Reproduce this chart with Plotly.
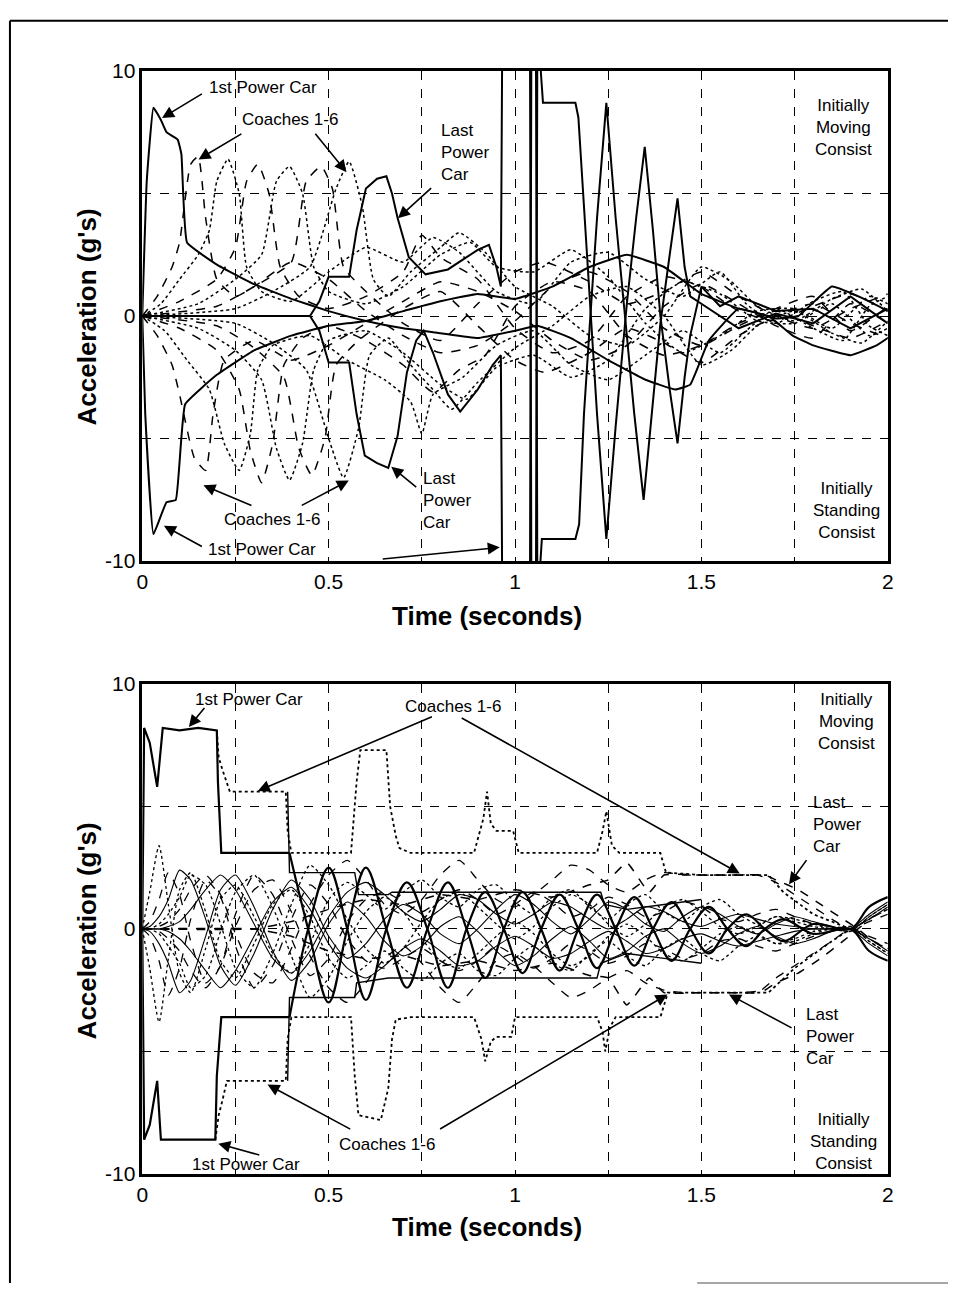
import plotly.graph_objects as go

# ---------------- TOP PANEL DATA (time in s, acceleration in g) ----------------
t_top_pc1_mov = [0, 0.012, 0.03, 0.05, 0.065, 0.095, 0.105, 0.12, 0.2, 0.3, 0.4, 0.5, 0.6, 0.7, 0.8, 0.9, 1.0, 1.06, 1.15, 1.25, 1.35, 1.43, 1.47, 1.52, 1.6, 1.7, 1.76, 1.85, 1.95, 2.0]
a_top_pc1_mov = [0, 5.5, 8.5, 8.0, 7.5, 7.2, 6.6, 3.0, 2.1, 1.3, 0.7, 0.2, -0.2, -0.5, -0.7, -0.9, -0.6, -0.4, -0.9, -1.8, -2.6, -3.0, -2.8, -1.0, 0.3, -0.1, 0.0, 1.2, 0.6, 0.2]

t_top_pc1_std = [0, 0.008, 0.03, 0.065, 0.09, 0.115, 0.2, 0.3, 0.4, 0.5, 0.6, 0.7, 0.8, 0.9, 1.0, 1.1, 1.2, 1.3, 1.4, 1.5, 1.6, 1.68, 1.745, 1.8, 1.9, 1.97, 2.0]
a_top_pc1_std = [0, -4.0, -8.9, -7.6, -7.5, -3.6, -2.4, -1.4, -0.8, -0.4, -0.2, 0.2, 0.6, 0.9, 0.7, 1.2, 2.0, 2.5, 2.0, 0.9, 0.3, 0.0, -0.8, -1.2, -1.6, -1.2, -0.9]

t_top_lpc_mov = [0, 0.45, 0.475, 0.50, 0.555, 0.575, 0.60, 0.63, 0.655, 0.67, 0.685, 0.715, 0.76, 0.82, 0.86, 0.90, 0.93, 0.95, 0.962, 0.966, 1.04, 1.044, 1.056, 1.06, 1.075, 1.162, 1.17, 1.185, 1.2, 1.22, 1.245, 1.27, 1.3, 1.325, 1.348, 1.37, 1.39, 1.415, 1.436, 1.455, 1.47, 1.5, 1.55, 1.6, 1.7, 1.8, 1.9, 2.0]
a_top_lpc_mov = [0, 0, 0.6, 1.6, 1.6, 3.5, 5.2, 5.6, 5.7, 5.0, 4.0, 2.4, 1.7, 1.9, 2.3, 2.7, 2.9, 2.0, 1.2, 12, 12, -12, -12, 12, 8.7, 8.7, 8.1, 4.5, 1.0, -4.0, -9.1, -4.5, 0.5, 4.0, 6.9, 3.5, 0.0, -3.0, -5.2, -2.5, -0.8, 1.2, 0.4, 0.8, 0.2, 0.3, -0.5, 0.3]

t_top_lpc_std = [0, 0.45, 0.475, 0.50, 0.555, 0.575, 0.597, 0.63, 0.66, 0.685, 0.71, 0.735, 0.755, 0.78, 0.82, 0.853, 0.9, 0.94, 0.962, 0.966, 1.04, 1.044, 1.056, 1.06, 1.072, 1.162, 1.172, 1.185, 1.2, 1.22, 1.245, 1.27, 1.295, 1.32, 1.345, 1.37, 1.39, 1.415, 1.436, 1.455, 1.47, 1.5, 1.6, 1.7, 1.8, 1.9, 2.0]
a_top_lpc_std = [0, 0, -0.6, -1.9, -1.9, -4.0, -5.7, -6.0, -6.2, -4.9, -2.3, -1.0, -0.6, -1.5, -3.2, -3.9, -3.0, -2.0, -1.6, -12, -12, 12, 12, -12, -9.1, -9.1, -8.5, -4.0, -0.5, 4.0, 8.7, 4.0, 0.0, -4.0, -7.5, -3.5, -0.3, 2.5, 4.8, 2.0, 0.8, 0.5, -0.5, 0.1, -0.3, 0.8, -0.3]

# coaches, initially moving consist (top)
t_top_c1m = [0, 0.04, 0.08, 0.1, 0.13, 0.15, 0.17, 0.2, 0.25, 0.3, 0.4, 0.5, 0.6, 0.7, 0.8, 0.9, 1.0, 1.1, 1.2, 1.3, 1.4, 1.5, 1.6, 1.7, 1.8, 1.9, 2.0]
a_top_c1m = [0, 0.8, 2.0, 3.0, 6.2, 6.5, 4.0, 1.5, 0.8, 1.2, 2.2, 1.5, 0.2, -0.8, -1.5, -1.2, -0.2, 1.2, 1.8, 1.0, -0.5, -1.2, -0.4, 0.3, 0.8, -0.6, 0.4]
t_top_c2m = [0, 0.05, 0.1, 0.15, 0.18, 0.2, 0.23, 0.26, 0.28, 0.32, 0.4, 0.5, 0.6, 0.7, 0.78, 0.85, 0.95, 1.05, 1.15, 1.25, 1.35, 1.45, 1.55, 1.62, 1.7, 1.8, 1.88, 1.95, 2.0]
a_top_c2m = [0, 0.5, 1.5, 2.5, 3.5, 5.5, 6.4, 5.0, 2.0, 1.0, 0.6, 1.8, 2.8, 2.2, 3.2, 2.6, 1.0, 0.5, 2.2, 2.6, 1.5, 0.8, 1.8, 0.5, -0.3, 0.6, 1.0, -0.4, -0.8]
t_top_c3m = [0, 0.1, 0.2, 0.25, 0.28, 0.31, 0.34, 0.37, 0.42, 0.5, 0.6, 0.7, 0.75, 0.8, 0.9, 1.0, 1.1, 1.2, 1.3, 1.4, 1.5, 1.6, 1.7, 1.8, 1.9, 2.0]
a_top_c3m = [0, 0.6, 1.5, 2.8, 5.5, 6.2, 5.0, 2.0, 0.8, 0.3, 0.8, 1.8, 3.3, 2.4, 1.5, -0.5, -1.5, -1.0, 0.8, 1.6, 1.2, 0.2, -0.2, 0.4, 0.9, 0.2]
t_top_c4m = [0, 0.15, 0.25, 0.32, 0.36, 0.395, 0.43, 0.46, 0.5, 0.6, 0.7, 0.8, 0.88, 0.95, 1.05, 1.15, 1.25, 1.35, 1.45, 1.55, 1.65, 1.75, 1.85, 1.95, 2.0]
a_top_c4m = [0, 0.5, 1.5, 2.5, 5.5, 6.1, 5.0, 2.0, 1.0, 0.5, 1.2, 2.5, 3.0, 2.0, 1.8, 2.7, 1.6, -0.3, -1.5, -0.8, 0.2, 0.3, -0.5, 0.8, 0.5]
t_top_c5m = [0, 0.2, 0.3, 0.4, 0.44, 0.48, 0.51, 0.54, 0.6, 0.7, 0.8, 0.9, 1.0, 1.08, 1.2, 1.3, 1.4, 1.5, 1.6, 1.7, 1.8, 1.9, 2.0]
a_top_c5m = [0, 0.4, 1.2, 2.2, 5.5, 6.1, 5.2, 2.0, 1.0, -0.3, -1.0, 0.5, 1.8, 2.2, 1.4, 0.5, 1.0, 1.8, 0.8, 0.0, -0.5, 0.3, 0.9]
t_top_c6m = [0, 0.25, 0.35, 0.45, 0.52, 0.555, 0.59, 0.62, 0.66, 0.72, 0.8, 0.85, 0.92, 1.0, 1.1, 1.2, 1.3, 1.4, 1.5, 1.58, 1.65, 1.75, 1.85, 1.93, 2.0]
a_top_c6m = [0, 0.3, 1.0, 2.0, 5.2, 6.3, 4.5, 1.5, 0.8, 1.8, 2.8, 3.4, 2.6, 1.2, 0.4, -0.8, -1.2, 0.0, 2.0, 1.4, 0.4, -0.2, 0.7, 1.1, 0.2]

# coaches, initially standing consist (top)
t_top_c1s = [0, 0.04, 0.08, 0.1, 0.14, 0.17, 0.19, 0.22, 0.3, 0.4, 0.5, 0.6, 0.7, 0.8, 0.9, 1.0, 1.1, 1.2, 1.3, 1.4, 1.5, 1.6, 1.7, 1.8, 1.9, 2.0]
a_top_c1s = [0, -0.8, -2.0, -3.2, -5.8, -6.3, -4.0, -1.8, -1.0, -1.8, -1.2, -0.3, 0.6, 1.4, 1.0, 0.2, -1.0, -1.8, -1.2, 0.4, 1.3, 0.5, -0.4, -0.9, 0.5, -0.3]
t_top_c2s = [0, 0.06, 0.12, 0.18, 0.22, 0.26, 0.29, 0.31, 0.35, 0.45, 0.55, 0.65, 0.72, 0.75, 0.78, 0.86, 0.95, 1.05, 1.15, 1.25, 1.35, 1.45, 1.55, 1.62, 1.7, 1.8, 1.88, 1.95, 2.0]
a_top_c2s = [0, -0.6, -1.8, -3.0, -5.2, -6.3, -4.8, -2.2, -1.2, -0.8, -1.8, -2.6, -3.5, -4.8, -3.2, -2.5, -1.2, -0.6, -2.0, -2.6, -1.6, -0.6, -1.5, -0.6, 0.3, -0.5, -1.0, 0.4, 0.8]
t_top_c3s = [0, 0.1, 0.2, 0.26, 0.29, 0.32, 0.35, 0.38, 0.43, 0.5, 0.6, 0.7, 0.78, 0.85, 0.92, 1.0, 1.1, 1.2, 1.3, 1.4, 1.5, 1.6, 1.7, 1.8, 1.9, 2.0]
a_top_c3s = [0, -0.5, -1.4, -3.0, -5.5, -6.8, -5.2, -2.0, -0.9, -0.4, -1.0, -2.0, -3.1, -2.2, -1.6, 0.4, 1.4, 1.0, -0.8, -1.6, -1.2, -0.3, 0.2, -0.4, -0.9, -0.2]
t_top_c4s = [0, 0.15, 0.25, 0.32, 0.36, 0.395, 0.43, 0.46, 0.5, 0.6, 0.7, 0.8, 0.87, 0.95, 1.05, 1.15, 1.25, 1.35, 1.45, 1.55, 1.65, 1.75, 1.85, 1.95, 2.0]
a_top_c4s = [0, -0.5, -1.4, -2.6, -5.4, -6.7, -5.2, -2.2, -1.0, -0.6, -1.5, -2.8, -3.4, -2.1, -1.6, -2.5, -1.8, 0.3, 1.4, 0.9, -0.2, -0.3, 0.5, -0.8, -0.5]
t_top_c5s = [0, 0.2, 0.3, 0.38, 0.42, 0.455, 0.49, 0.52, 0.58, 0.7, 0.8, 0.9, 1.0, 1.08, 1.2, 1.3, 1.4, 1.5, 1.6, 1.7, 1.8, 1.9, 2.0]
a_top_c5s = [0, -0.4, -1.3, -2.5, -5.4, -6.5, -5.0, -2.0, -1.0, 0.3, 1.0, -0.4, -1.8, -2.3, -1.5, -0.5, -1.1, -1.9, -0.8, 0.0, 0.5, -0.3, -0.9]
t_top_c6s = [0, 0.25, 0.35, 0.44, 0.5, 0.54, 0.58, 0.61, 0.66, 0.72, 0.78, 0.83, 0.9, 1.0, 1.1, 1.2, 1.3, 1.4, 1.5, 1.58, 1.65, 1.75, 1.85, 1.93, 2.0]
a_top_c6s = [0, -0.3, -1.1, -2.2, -5.0, -6.6, -4.6, -1.6, -0.9, -2.0, -3.0, -3.8, -2.7, -1.3, -0.4, 0.8, 1.2, 0.0, -2.0, -1.4, -0.4, 0.2, -0.7, -1.1, -0.2]

# ---------------- BOTTOM PANEL DATA ----------------
t_bot_pc1_mov_step = [0, 0.005, 0.02, 0.04, 0.055, 0.1, 0.15, 0.2, 0.203, 0.212, 0.3, 0.395]
a_bot_pc1_mov_step = [0, 8.2, 7.6, 5.8, 8.2, 8.1, 8.2, 8.1, 6.0, 3.1, 3.1, 3.1]
t_bot_pc1_std_step = [0, 0.005, 0.02, 0.04, 0.05, 0.1, 0.15, 0.196, 0.2, 0.212, 0.3, 0.395]
a_bot_pc1_std_step = [0, -8.6, -8.0, -6.2, -8.6, -8.6, -8.6, -8.6, -6.0, -3.6, -3.6, -3.6]

t_bot_osc = [0.395, 0.445, 0.50, 0.55, 0.60, 0.655, 0.71, 0.765, 0.82, 0.87, 0.92, 0.97, 1.02, 1.07, 1.12, 1.17, 1.22, 1.27, 1.32, 1.37, 1.42, 1.47, 1.52, 1.57, 1.62, 1.67, 1.72, 1.8, 1.9, 1.95, 2.0]
a_bot_pc1_mov_osc = [3.1, 0.0, -3.0, 0.0, 2.5, 0.0, -2.4, 0.0, 1.9, 0.0, -2.0, 0.0, 1.5, 0.0, -1.7, 0.0, 1.4, 0.0, -1.5, 0.0, 1.1, 0.0, -1.0, 0.0, 0.6, 0.0, -0.5, 0.2, 0.0, 0.9, 1.3]
a_bot_pc1_std_osc = [-3.6, 0.0, 2.5, 0.0, -2.9, 0.0, 1.9, 0.0, -2.4, 0.0, 1.5, 0.0, -1.8, 0.0, 1.4, 0.0, -1.6, 0.0, 1.3, 0.0, -1.3, 0.0, 0.9, 0.0, -0.7, 0.0, 0.4, -0.2, 0.0, -0.9, -1.3]

t_bot_stepA_mov = [0.2, 0.205, 0.215, 0.235, 0.385, 0.39, 0.40, 0.56, 0.575, 0.585, 0.655, 0.665, 0.68, 0.69, 0.72, 0.89, 0.915, 0.925, 0.935, 0.95, 0.995, 1.01, 1.22, 1.235, 1.245, 1.26, 1.28, 1.39, 1.405, 1.5, 1.68, 1.72, 1.8, 1.9]
a_bot_stepA_mov = [8.1, 7.0, 6.5, 5.6, 5.6, 4.0, 3.1, 3.1, 6.0, 7.3, 7.3, 5.0, 3.8, 3.3, 3.1, 3.1, 4.5, 5.6, 4.3, 4.0, 4.0, 3.1, 3.1, 4.0, 4.8, 3.4, 3.1, 3.1, 2.3, 2.2, 2.2, 1.5, 0.6, 0.0]
t_bot_stepA_std = [0.196, 0.205, 0.215, 0.227, 0.385, 0.39, 0.40, 0.56, 0.57, 0.58, 0.64, 0.66, 0.67, 0.68, 0.72, 0.89, 0.91, 0.92, 0.935, 0.95, 0.99, 1.0, 1.22, 1.235, 1.242, 1.255, 1.27, 1.39, 1.41, 1.5, 1.68, 1.75, 1.85, 1.9]
a_bot_stepA_std = [-8.6, -7.6, -7.0, -6.2, -6.2, -4.5, -3.6, -3.6, -6.0, -7.6, -7.8, -6.5, -4.5, -3.7, -3.6, -3.6, -4.5, -5.4, -4.6, -4.4, -4.4, -3.6, -3.6, -4.2, -5.0, -4.0, -3.6, -3.6, -2.6, -2.6, -2.6, -1.6, -0.5, 0.0]

t_bot_stepB_mov = [0.39, 0.395, 0.57, 0.575, 0.58, 0.66, 0.67, 0.985, 1.23, 1.24, 1.3, 1.4, 1.5]
a_bot_stepB_mov = [5.6, 2.3, 2.3, 1.8, 1.4, 1.4, 1.5, 1.5, 1.5, 1.0, 0.8, 1.0, 1.2]
t_bot_stepB_std = [0.39, 0.395, 0.57, 0.575, 0.66, 0.67, 1.02, 1.22, 1.23, 1.3, 1.4, 1.5]
a_bot_stepB_std = [-6.2, -2.8, -2.8, -2.2, -2.0, -2.0, -2.0, -2.0, -1.4, -1.0, -1.2, -1.4]

t_bot_lpc = [0, 0.3, 0.4, 0.5, 0.6, 0.7, 0.8, 0.9, 1.0, 1.1, 1.2, 1.25, 1.3, 1.36, 1.4, 1.5, 1.6, 1.67, 1.7, 1.76, 1.82, 1.88, 1.92, 1.96, 2.0]
a_bot_lpc_mov = [0, 0, 0.3, 0.8, 1.2, 1.0, 1.4, 1.2, 1.6, 1.3, 1.8, 2.0, 2.7, 1.5, 2.2, 2.2, 2.2, 2.2, 2.0, 1.6, 1.0, 0.4, 0.0, -0.5, -0.8]
a_bot_lpc_std = [0, 0, -0.3, -0.9, -1.2, -1.1, -1.5, -1.3, -1.7, -1.4, -1.9, -2.0, -3.1, -2.0, -2.6, -2.6, -2.6, -2.5, -2.2, -1.8, -1.2, -0.5, 0.0, 0.5, 0.8]

t_bot_c = [0, 0.02, 0.045, 0.07, 0.1, 0.13, 0.17, 0.21, 0.25, 0.3, 0.35, 0.4, 0.45, 0.5, 0.55, 0.6, 0.65, 0.7, 0.75, 0.8, 0.85, 0.9, 0.95, 1.0, 1.05, 1.1, 1.15, 1.2, 1.25, 1.3, 1.35, 1.4, 1.45, 1.5, 1.55, 1.6, 1.65, 1.7, 1.75, 1.8, 1.85, 1.9, 1.95, 2.0]
a_bot_c1m = [0, 1.5, 3.4, 1.0, -1.8, -2.6, -0.8, 1.2, 1.8, 0.5, -1.0, -1.8, -0.6, 1.2, 1.9, 1.4, 0.8, 1.5, 2.0, 1.3, 0.9, 1.6, 1.8, 1.1, 0.6, 1.3, 1.6, 0.9, 0.4, 1.0, 1.4, 0.7, 0.3, 0.9, 1.2, 0.6, 0.2, 0.5, 0.3, 0.1, 0.0, -0.1, 0.5, 1.0]
a_bot_c2m = [0, 0.3, 1.2, 2.3, 1.4, -0.5, -2.2, -1.5, 0.6, 2.2, 1.4, -0.4, -1.9, -1.2, 0.3, 1.2, 1.5, 1.1, 0.7, 1.2, 1.6, 1.2, 0.6, 1.0, 1.5, 1.1, 0.5, 0.8, 1.3, 1.0, 0.5, 0.7, 1.1, 0.9, 0.4, 0.3, 0.6, 0.8, 0.5, 0.2, 0.1, 0.0, -0.4, -0.8]
a_bot_c3m = [0, 0.1, 0.5, 1.2, 2.4, 2.0, 0.4, -1.5, -2.3, -1.0, 0.8, 2.0, 1.2, -0.3, -1.2, -0.6, 0.4, 1.0, 0.6, -0.2, -0.6, 0.0, 0.8, 1.4, 1.0, 0.3, -0.2, 0.4, 1.1, 0.8, 0.2, -0.1, 0.5, 0.9, 0.6, 0.1, -0.2, 0.2, 0.5, 0.3, 0.1, 0.0, 0.6, 1.1]
a_bot_c4m = [0, 0.0, 0.2, 0.6, 1.3, 2.2, 1.8, 0.2, -1.6, -2.4, -1.0, 1.0, 2.6, 1.8, 0.4, -0.8, -1.4, -0.8, 0.3, 1.2, 1.5, 0.9, 0.2, -0.4, 0.1, 0.9, 1.4, 1.0, 0.2, -0.3, 0.2, 0.9, 1.2, 0.7, 0.1, -0.2, 0.1, 0.5, 0.4, 0.2, 0.0, 0.1, -0.5, -1.0]
a_bot_c5m = [0, 0, 0.1, 0.3, 0.8, 1.6, 2.2, 1.4, -0.2, -1.8, -2.2, -0.8, 1.0, 2.2, 2.8, 2.0, 1.0, 0.6, 1.2, 2.2, 2.8, 2.0, 1.2, 0.9, 1.4, 2.0, 2.6, 2.4, 1.8, 1.5, 2.0, 2.3, 2.2, 2.2, 2.2, 2.2, 2.2, 1.9, 1.4, 0.9, 0.4, 0.0, 0.3, 0.6]
a_bot_c6m = [0, 0, 0, 0.1, 0.3, 0.8, 1.6, 2.2, 1.6, 0.2, -1.2, -1.8, -0.9, 0.5, 1.5, 1.9, 1.4, 0.7, 0.3, 0.8, 1.4, 1.2, 0.6, 0.2, 0.6, 1.1, 0.9, 0.4, 0.0, 0.4, 0.9, 0.7, 0.3, 0.1, 0.4, 0.6, 0.4, 0.2, 0.1, 0.0, 0.0, 0.0, 0.4, 0.9]
a_bot_c1s = [0, -1.6, -3.8, -1.2, 1.6, 2.3, 0.7, -1.3, -2.0, -0.6, 1.0, 1.6, 0.5, -1.2, -2.0, -1.5, -0.9, -1.6, -2.1, -1.4, -1.0, -1.7, -1.9, -1.2, -0.7, -1.4, -1.7, -1.0, -0.5, -1.1, -1.5, -0.8, -0.4, -1.0, -1.3, -0.7, -0.3, -0.6, -0.4, -0.1, 0.0, 0.1, -0.5, -1.0]
a_bot_c2s = [0, -0.3, -1.3, -2.7, -1.6, 0.4, 2.0, 1.3, -0.7, -2.4, -1.5, 0.4, 1.8, 1.0, -0.4, -1.3, -1.6, -1.2, -0.8, -1.3, -1.7, -1.3, -0.7, -1.1, -1.6, -1.2, -0.6, -0.9, -1.4, -1.1, -0.6, -0.8, -1.2, -1.0, -0.5, -0.4, -0.7, -0.9, -0.6, -0.3, -0.1, 0.0, 0.4, 0.8]
a_bot_c3s = [0, -0.1, -0.6, -1.4, -2.6, -2.1, -0.3, 1.6, 2.2, 0.9, -0.9, -2.1, -1.3, 0.2, 1.1, 0.5, -0.5, -1.1, -0.7, 0.1, 0.5, -0.1, -0.9, -1.5, -1.1, -0.4, 0.1, -0.5, -1.2, -0.9, -0.3, 0.0, -0.6, -1.0, -0.7, -0.2, 0.1, -0.3, -0.6, -0.4, -0.1, 0.0, -0.6, -1.1]
a_bot_c4s = [0, 0, -0.2, -0.7, -1.4, -2.4, -1.9, -0.1, 1.5, 2.2, 0.9, -1.1, -2.8, -2.0, -0.5, 0.7, 1.3, 0.7, -0.4, -1.3, -1.6, -1.0, -0.3, 0.3, -0.2, -1.0, -1.5, -1.1, -0.3, 0.2, -0.3, -1.0, -1.3, -0.8, -0.2, 0.1, -0.2, -0.6, -0.5, -0.2, 0.0, -0.1, 0.5, 1.0]
a_bot_c5s = [0, 0, -0.1, -0.4, -0.9, -1.7, -2.4, -1.5, 0.1, 1.6, 2.0, 0.7, -1.1, -2.4, -3.0, -2.2, -1.2, -0.7, -1.4, -2.4, -3.0, -2.2, -1.3, -1.0, -1.5, -2.2, -2.8, -2.5, -2.0, -1.7, -2.2, -2.5, -2.6, -2.6, -2.6, -2.6, -2.6, -2.0, -1.5, -1.0, -0.5, 0.0, -0.3, -0.6]
a_bot_c6s = [0, 0, 0, -0.1, -0.4, -0.9, -1.7, -2.4, -1.7, -0.3, 1.1, 1.7, 0.8, -0.6, -1.6, -2.0, -1.5, -0.8, -0.4, -0.9, -1.5, -1.3, -0.7, -0.3, -0.7, -1.2, -1.0, -0.5, -0.1, -0.5, -1.0, -0.8, -0.4, -0.2, -0.5, -0.7, -0.5, -0.3, -0.1, 0.0, 0.0, 0.0, -0.4, -0.9]

x_tick_vals = [0, 0.25, 0.5, 0.75, 1, 1.25, 1.5, 1.75, 2]
x_tick_text = ["0", "", "0.5", "", "1", "", "1.5", "", "2"]
y_tick_vals = [-10, -5, 0, 5, 10]
y_tick_text = ["-10", "", "0", "", "10"]

# ---------------- FIGURE ----------------
W, H = 954, 1297
fig = go.Figure()


def add(t, a, panel, dash="solid", width=1.4, shape="linear", smoothing=0.6):
    xa, ya = ("x", "y") if panel == 1 else ("x2", "y2")
    line = dict(color="black", width=width, dash=dash, shape=shape)
    if shape == "spline":
        line["smoothing"] = smoothing
    fig.add_trace(go.Scatter(x=t, y=a, mode="lines", line=line, xaxis=xa, yaxis=ya,
                             showlegend=False, hoverinfo="skip"))


# top coaches
top_coaches = [
    (t_top_c1m, a_top_c1m, "dash"), (t_top_c2m, a_top_c2m, "dot"), (t_top_c3m, a_top_c3m, "dash"),
    (t_top_c4m, a_top_c4m, "dot"), (t_top_c5m, a_top_c5m, "dash"), (t_top_c6m, a_top_c6m, "dot"),
    (t_top_c1s, a_top_c1s, "dash"), (t_top_c2s, a_top_c2s, "dot"), (t_top_c3s, a_top_c3s, "dash"),
    (t_top_c4s, a_top_c4s, "dot"), (t_top_c5s, a_top_c5s, "dash"), (t_top_c6s, a_top_c6s, "dot"),
]
for t, a, d in top_coaches:
    add(t, a, 1, dash=d, width=1.5, shape="spline", smoothing=0.5)

add(t_top_pc1_mov, a_top_pc1_mov, 1, width=2.0, shape="spline", smoothing=0.3)
add(t_top_pc1_std, a_top_pc1_std, 1, width=2.0, shape="spline", smoothing=0.3)
add(t_top_lpc_mov, a_top_lpc_mov, 1, width=2.0)
add(t_top_lpc_std, a_top_lpc_std, 1, width=2.0)

# bottom coaches
bot_coaches = [
    (a_bot_c1m, "dot"), (a_bot_c2m, "dash"), (a_bot_c3m, "solid"), (a_bot_c4m, "dot"), (a_bot_c5m, "dash"), (a_bot_c6m, "solid"),
    (a_bot_c1s, "dot"), (a_bot_c2s, "dash"), (a_bot_c3s, "solid"), (a_bot_c4s, "dot"), (a_bot_c5s, "dash"), (a_bot_c6s, "solid"),
]
for a, d in bot_coaches:
    add(t_bot_c, a, 2, dash=d, width=1.3 if d != "solid" else 1.1, shape="spline", smoothing=0.6)

add(t_bot_lpc, a_bot_lpc_mov, 2, dash="dash", width=1.5, shape="spline", smoothing=0.4)
add(t_bot_lpc, a_bot_lpc_std, 2, dash="dash", width=1.5, shape="spline", smoothing=0.4)
add(t_bot_stepA_mov, a_bot_stepA_mov, 2, dash="dot", width=1.8)
add(t_bot_stepA_std, a_bot_stepA_std, 2, dash="dot", width=1.8)
add(t_bot_stepB_mov, a_bot_stepB_mov, 2, width=1.4)
add(t_bot_stepB_std, a_bot_stepB_std, 2, width=1.4)
add(t_bot_pc1_mov_step, a_bot_pc1_mov_step, 2, width=2.2)
add(t_bot_pc1_std_step, a_bot_pc1_std_step, 2, width=2.2)
add(t_bot_osc, a_bot_pc1_mov_osc, 2, width=2.2, shape="spline", smoothing=1.0)
add(t_bot_osc, a_bot_pc1_std_osc, 2, width=2.2, shape="spline", smoothing=1.0)

# ---------------- AXES ----------------
x0p, x1p = 138 / W, 893 / W
top_dom = [1 - 559 / H, 1 - 60 / H]
bot_dom = [1 - 1183 / H, 1 - 684 / H]
tickfont = dict(family="Liberation Sans Narrow, Arial Narrow, Liberation Sans, Arial", size=21, color="black")
axis_common = dict(showline=True, linecolor="black", linewidth=2.5, mirror=True,
                   showgrid=True, gridcolor="black", gridwidth=1.3, griddash="dash",
                   zeroline=False, ticks="", tickfont=tickfont)
fig.update_layout(
    width=W, height=H, margin=dict(l=0, r=0, t=0, b=0),
    paper_bgcolor="white", plot_bgcolor="white",
    xaxis=dict(domain=[x0p, x1p], anchor="y", range=[0, 2], tickvals=x_tick_vals, ticktext=x_tick_text, **axis_common),
    yaxis=dict(domain=top_dom, anchor="x", range=[-10, 10], tickvals=y_tick_vals, ticktext=y_tick_text, **axis_common),
    xaxis2=dict(domain=[x0p, x1p], anchor="y2", range=[0, 2], tickvals=x_tick_vals, ticktext=x_tick_text, **axis_common),
    yaxis2=dict(domain=bot_dom, anchor="x2", range=[-10, 10], tickvals=y_tick_vals, ticktext=y_tick_text, **axis_common),
)

# ---------------- TEXT & ARROWS ----------------
lab_font = dict(family="Liberation Sans, Arial", size=17, color="black")
ann = []


def text(x, y, s, panel, xanchor="center", align="center"):
    xr, yr = ("x", "y") if panel == 1 else ("x2", "y2")
    ann.append(dict(x=x, y=y, xref=xr, yref=yr, text=s, showarrow=False, font=lab_font,
                    xanchor=xanchor, yanchor="middle", align=align))


def arrow(tx, ty, hx, hy, panel):
    xr, yr = ("x", "y") if panel == 1 else ("x2", "y2")
    ann.append(dict(x=hx, y=hy, xref=xr, yref=yr, ax=tx, ay=ty, axref=xr, ayref=yr, text="",
                    showarrow=True, arrowhead=2, arrowsize=1.5, arrowwidth=1.6, arrowcolor="black", standoff=0))


# top panel
text(0.323, 9.32, "1st Power Car", 1)
arrow(0.164, 9.1, 0.053, 8.08, 1)
text(0.395, 8.0, "Coaches 1-6", 1)
arrow(0.270, 7.47, 0.151, 6.39, 1)
arrow(0.461, 7.5, 0.548, 5.87, 1)
text(0.795, 6.67, "Last<br>Power<br>Car", 1, xanchor="left", align="left")
arrow(0.779, 5.27, 0.686, 3.99, 1)
text(1.881, 7.71, "Initially<br>Moving<br>Consist", 1)
text(0.747, -7.52, "Last<br>Power<br>Car", 1, xanchor="left", align="left")
arrow(0.739, -7.03, 0.668, -6.15, 1)
text(0.347, -8.32, "Coaches 1-6", 1)
arrow(0.297, -7.76, 0.164, -6.91, 1)
arrow(0.424, -7.76, 0.554, -6.71, 1)
text(0.321, -9.52, "1st Power Car", 1)
arrow(0.164, -9.44, 0.058, -8.56, 1)
arrow(0.641, -9.92, 0.959, -9.44, 1)
text(1.889, -7.92, "Initially<br>Standing<br>Consist", 1)

# bottom panel
text(0.286, 9.36, "1st Power Car", 2)
arrow(0.170, 9.08, 0.125, 8.24, 2)
text(0.834, 9.08, "Coaches 1-6", 2)
arrow(0.781, 8.68, 0.310, 5.63, 2)
arrow(0.853, 8.64, 1.603, 2.26, 2)
text(1.889, 8.48, "Initially<br>Moving<br>Consist", 2)
text(1.793, 4.27, "Last<br>Power<br>Car", 2, xanchor="left", align="left")
arrow(1.785, 2.87, 1.735, 1.82, 2)
text(1.775, -4.39, "Last<br>Power<br>Car", 2, xanchor="left", align="left")
arrow(1.746, -4.07, 1.574, -2.67, 2)
text(0.657, -8.80, "Coaches 1-6", 2)
arrow(0.562, -8.2, 0.336, -6.35, 2)
arrow(0.795, -8.2, 1.409, -2.67, 2)
text(0.278, -9.60, "1st Power Car", 2)
arrow(0.318, -9.24, 0.204, -8.76, 2)
text(1.881, -8.68, "Initially<br>Standing<br>Consist", 2)

# axis titles
title_font = dict(family="Liberation Sans, Arial", size=26, color="black")
for yc in (615, 1237):
    ann.append(dict(x=487 / W, y=1 - yc / H, xref="paper", yref="paper", text="<b>Time (seconds)</b>",
                    showarrow=False, font=title_font, xanchor="center", yanchor="middle"))
for yc in (310, 935):
    ann.append(dict(x=82 / W, y=1 - yc / H, xref="paper", yref="paper", text="<b>Acceleration (g's)</b>",
                    showarrow=False, font=title_font, xanchor="center", yanchor="middle", textangle=-90))
fig.update_layout(annotations=ann)

# page frame
fig.update_layout(shapes=[
    dict(type="line", xref="paper", yref="paper", x0=4 / W, x1=1, y0=1 - 9 / H, y1=1 - 9 / H, line=dict(color="black", width=2)),
    dict(type="line", xref="paper", yref="paper", x0=4 / W, x1=4 / W, y0=1 - 9 / H, y1=1 - 1294 / H, line=dict(color="black", width=2)),
    dict(type="line", xref="paper", yref="paper", x0=700 / W, x1=1, y0=1 - 1294 / H, y1=1 - 1294 / H, line=dict(color="#888888", width=1.5)),
])

fig.write_html("out.html")
